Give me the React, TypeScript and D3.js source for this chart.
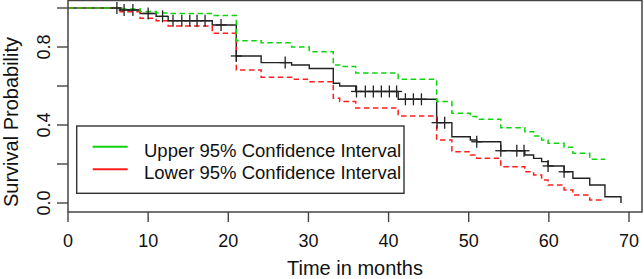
import React from "react";
import * as d3 from "d3";

// ---- Data ----
const stepTimes = [0, 6.5, 9, 11, 12.5, 18, 21, 24.1, 27.9, 30.1, 33.1, 33.9, 35.9, 41.2, 46, 47.9, 50.2, 51, 54, 57, 58.1, 59.1, 59.9, 61.9, 63, 65.1, 67, 69];
const survival = [1, 0.99, 0.972, 0.957, 0.935, 0.913, 0.754, 0.72, 0.708, 0.69, 0.614, 0.6, 0.572, 0.532, 0.412, 0.34, 0.323, 0.314, 0.268, 0.246, 0.229, 0.212, 0.19, 0.16, 0.127, 0.092, 0.032, 0];
const upperCI = [1, 0.995, 0.982, 0.975, 0.972, 0.962, 0.832, 0.822, 0.8, 0.776, 0.708, 0.7, 0.667, 0.634, 0.52, 0.46, 0.443, 0.43, 0.386, 0.366, 0.344, 0.323, 0.306, 0.286, 0.255, 0.224];
const lowerCI = [1, 0.981, 0.947, 0.935, 0.908, 0.87, 0.682, 0.645, 0.634, 0.622, 0.537, 0.52, 0.487, 0.446, 0.323, 0.263, 0.246, 0.229, 0.186, 0.16, 0.144, 0.118, 0.092, 0.067, 0.041, 0.015];
const ciEndTime = 67;
const censorTimes = [6.1, 7.0, 8.1, 10.0, 11.8, 13.1, 14.2, 15.2, 16.1, 17.1, 19.1, 21.0, 27.1, 36.0, 37.1, 38.1, 39.1, 40.1, 41.0, 42.1, 43.1, 44.1, 46.05, 47.0, 51.0, 54.0, 56.0, 56.9, 59.9, 61.9];
const xTicks = [0, 10, 20, 30, 40, 50, 60, 70];
const yTicks = [0, 0.2, 0.4, 0.6, 0.8, 1.0];
const yTickLabels = [0, 0.4, 0.8];
const legendLabels = ["Upper 95% Confidence Interval", "Lower 95% Confidence Interval"];

const W = 644;
const H = 279;
const GREEN = "#0ed40e";
const RED = "#ff1e1e";
const INK = "#222";
const FONT = "'Liberation Sans', Arial, sans-serif";

export default function App() {
  const x = d3.scaleLinear().domain([0, 70]).range([68, 629]);
  const y = d3.scaleLinear().domain([0, 1]).range([203, 8]);
  const boxL = 68, boxR = 642, boxT = 0.5, boxB = 212;

  const line = d3
    .line<[number, number]>()
    .x((d) => x(d[0]))
    .y((d) => y(d[1]))
    .curve(d3.curveStepAfter);

  const survPts: [number, number][] = stepTimes.map((t, i) => [t, survival[i]]);
  const ciPts = (vals: number[]): [number, number][] => {
    const pts: [number, number][] = vals.map((v, i) => [stepTimes[i], v]);
    pts.push([ciEndTime, vals[vals.length - 1]]);
    return pts;
  };
  const bis = d3.bisector((t: number) => t).right;
  const survAt = (t: number) => survival[Math.max(0, bis(stepTimes, t) - 1)];

  const tickLen = 10;
  const cs = 5.5;

  return (
    <div style={{ position: "fixed", left: 0, top: 0 }}>
      <svg width={W} height={H} style={{ display: "block", background: "#fff" }}>
        {/* survival curve */}
        <path d={line(survPts) ?? ""} fill="none" stroke={INK} strokeWidth={1.4} />
        {/* CIs */}
        <path d={line(ciPts(lowerCI)) ?? ""} fill="none" stroke={RED} strokeWidth={1.5} strokeDasharray="5.5,3.5" />
        <path d={line(ciPts(upperCI)) ?? ""} fill="none" stroke={GREEN} strokeWidth={1.5} strokeDasharray="5.5,3.5" />
        {/* censor marks */}
        {censorTimes.map((t, i) => {
          const cx = x(t);
          const cy = y(survAt(t));
          return (
            <g key={i} stroke={INK} strokeWidth={1.3}>
              <line x1={cx} x2={cx} y1={cy - cs - 0.5} y2={cy + cs + 0.5} />
              <line x1={cx - cs} x2={cx + cs} y1={cy} y2={cy} />
            </g>
          );
        })}
        {/* box */}
        <rect x={boxL} y={boxT} width={boxR - boxL} height={boxB - boxT} fill="none" stroke="#444" strokeWidth={1.5} />
        {/* x axis */}
        {xTicks.map((t) => (
          <g key={t}>
            <line x1={x(t)} x2={x(t)} y1={boxB} y2={boxB + tickLen} stroke="#444" strokeWidth={1.4} />
            <text x={x(t)} y={247} textAnchor="middle" fontFamily={FONT} fontSize={18} fill="#111">
              {t}
            </text>
          </g>
        ))}
        {/* y axis */}
        {yTicks.map((v) => (
          <line key={v} x1={boxL - tickLen - 1} x2={boxL} y1={y(v)} y2={y(v)} stroke="#444" strokeWidth={1.4} />
        ))}
        {yTickLabels.map((v) => (
          <text
            key={v}
            transform={`translate(50,${y(v)}) rotate(-90)`}
            textAnchor="middle"
            fontFamily={FONT}
            fontSize={18}
            fill="#111"
          >
            {v.toFixed(1)}
          </text>
        ))}
        {/* axis titles */}
        <text x={(boxL + boxR) / 2} y={275} textAnchor="middle" fontFamily={FONT} fontSize={20} fill="#111">
          Time in months
        </text>
        <text transform={`translate(18,122) rotate(-90)`} textAnchor="middle" fontFamily={FONT} fontSize={20} fill="#111">
          Survival Probability
        </text>
        {/* legend */}
        <rect x={76.7} y={126} width={404 - 76.7} height={193.3 - 126} fill="#fff" stroke="#333" strokeWidth={1.4} />
        {legendLabels.map((lab, i) => (
          <g key={lab}>
            <line x1={92.7} x2={127.7} y1={146.7 + i * 22.6} y2={146.7 + i * 22.6} stroke={i === 0 ? GREEN : RED} strokeWidth={2} />
            <text x={144} y={157.3 + i * 22} fontFamily={FONT} fontSize={18.5} fill="#111">
              {lab}
            </text>
          </g>
        ))}
      </svg>
    </div>
  );
}
